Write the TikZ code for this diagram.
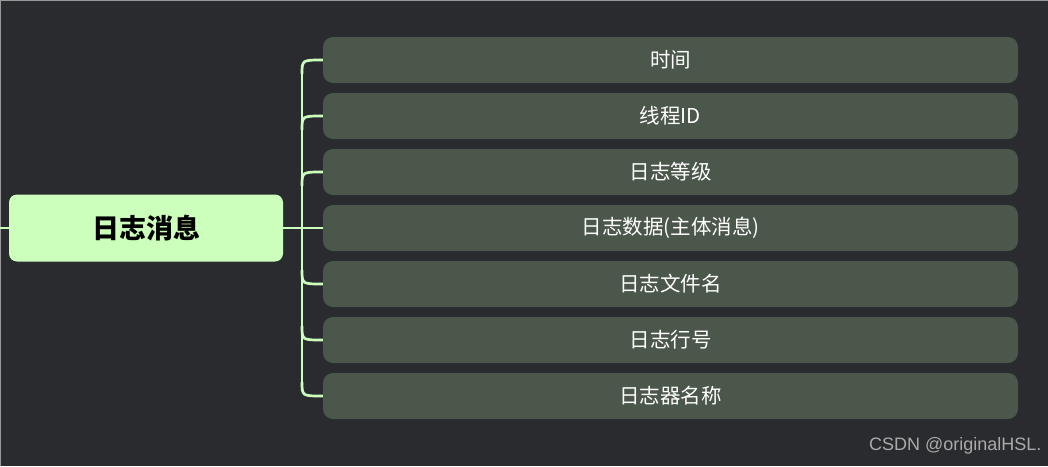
\documentclass[tikz,border=0pt]{standalone}
\usepackage{fontspec}
\newfontfamily\cjk{Noto Sans CJK SC}
\newfontfamily\wmfont{Liberation Sans}
\usetikzlibrary{calc}

\definecolor{bgdark}{RGB}{42,43,47}
\definecolor{rootfill}{RGB}{204,255,187}
\definecolor{leaffill}{RGB}{75,87,74}
\definecolor{linkgreen}{RGB}{204,255,187}
\definecolor{markgray}{RGB}{170,170,170}

\tikzset{
  rootbox/.style={fill=rootfill, rounded corners=8pt, minimum width=274pt,
    minimum height=67pt, inner sep=0pt, text=black,
    font=\cjk\bfseries\fontsize{27}{31}\selectfont},
  leafbox/.style={fill=leaffill, rounded corners=10pt, minimum width=695pt,
    minimum height=46pt, inner sep=0pt, text=white,
    font=\cjk\fontsize{20.5}{24}\selectfont},
  link/.style={draw=linkgreen, line width=2.7pt}
}

\begin{document}
\begin{tikzpicture}[x=1pt,y=-1pt]
    % Background and frame
    \fill[bgdark] (0,0) rectangle (1048,466);
    \useasboundingbox (0,0) rectangle (1048,466);
    \draw[gray!80, line width=1.5pt] (0,466) -- (0,0) -- (1048,0);

    % Root topic
    \node[rootbox] (root) at (146,228) {日志消息};
    \coordinate (in) at (0,228);
    \coordinate (fork) at (302,228);

    % Sub topics
    \foreach \txt [count=\i] in {时间, 线程ID, 日志等级, 日志数据(主体消息), 日志文件名, 日志行号, 日志器名称} {
        \node[leafbox] (c\i) at (670.5,{60+56*(\i-1)}) {\txt};
    }

    % Connectors
    \draw[link] (in) -- (root.west);
    \draw[link] (root.east) -- (c4.west);
    \draw[link] ($(fork |- c1.west)+(0,14)$) -- ($(fork |- c7.west)+(0,-14)$);
    \foreach \i in {1,2,3} {
        \draw[link] ($(fork |- c\i.west)+(0,14)$) .. controls (fork |- c\i.west) .. (c\i.west);
    }
    \foreach \i in {5,6,7} {
        \draw[link] ($(fork |- c\i.west)+(0,-14)$) .. controls (fork |- c\i.west) .. (c\i.west);
    }

    % Watermark
    \node[anchor=east, text=markgray, font=\wmfont\fontsize{18}{20}\selectfont] (wm) at (1045,446) {CSDN @originalHSL.};
\end{tikzpicture}
\end{document}
